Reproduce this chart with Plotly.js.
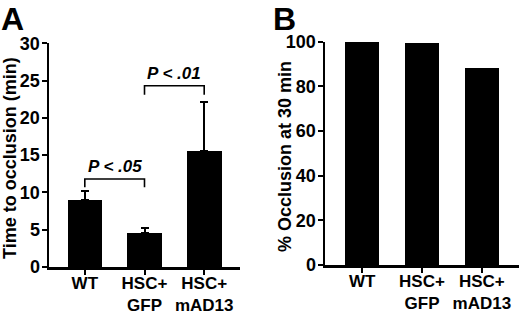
<!DOCTYPE html>
<html>
<head>
<meta charset="utf-8">
<script src="https://cdn.plot.ly/plotly-3.0.1.min.js"></script>
<style>html,body{margin:0;padding:0;background:#fff;}#chart{width:520px;height:314px;}</style>
</head>
<body>
<div id="chart"></div>
<script>
// Data
const categories = ['WT', 'HSC+<br>GFP', 'HSC+<br>mAD13'];
const timeToOcclusion = [9.0, 4.5, 15.5];
const timeErrorPlus = [1.2, 0.7, 6.6];
const occlusionPct = [100, 99.5, 88.3];
const bracketFrom = [0, 1];
const bracketTo = [1, 2];
const bracketY = [11.8, 24.3];
const bracketTipY = [10.7, 23.1];
const bracketLabels = ['P < .05', 'P < .01'];
const yTicksA = [0, 5, 10, 15, 20, 25, 30];
const yTicksB = [0, 20, 40, 60, 80, 100];
const yTitleA = 'Time to occlusion (min)';
const yTitleB = '% Occlusion at 30 min';
const panelLabels = ['A', 'B'];

const FONT = 'Liberation Sans, Arial, sans-serif';
const idx = categories.map((_, i) => i);

const traces = [
  {
    type: 'bar', x: idx, y: timeToOcclusion, xaxis: 'x', yaxis: 'y',
    width: 0.58, marker: {color: '#000'},
    error_y: {type: 'data', symmetric: false, array: timeErrorPlus, arrayminus: [0,0,0],
              color: '#000', thickness: 2, width: 4},
    hoverinfo: 'skip'
  },
  {
    type: 'bar', x: idx, y: occlusionPct, xaxis: 'x2', yaxis: 'y2',
    width: 0.57, marker: {color: '#000'}, hoverinfo: 'skip'
  }
];

const shapes = [];
const annotations = [];
bracketFrom.forEach((a, i) => {
  const b = bracketTo[i];
  shapes.push({
    type: 'path', xref: 'x', yref: 'y',
    path: `M ${a} ${bracketTipY[i]} L ${a} ${bracketY[i]} L ${b} ${bracketY[i]} L ${b} ${bracketTipY[i]}`,
    line: {color: '#000', width: 1.6}
  });
  annotations.push({
    xref: 'x', yref: 'y', x: (a + b) / 2, y: bracketY[i], yanchor: 'bottom', yshift: 1,
    text: '<i>' + bracketLabels[i] + '</i>', showarrow: false,
    font: {family: FONT, size: 17, color: '#000', weight: 'bold'}
  });
});
const titleFont = {family: FONT, size: 18, color: '#000', weight: 'bold'};
annotations.push({xref: 'paper', yref: 'paper', x: 10/520, y: (314-158)/314, xanchor: 'center', yanchor: 'middle',
  text: yTitleA, textangle: -90, showarrow: false, font: titleFont});
annotations.push({xref: 'paper', yref: 'paper', x: 285/520, y: (314-157)/314, xanchor: 'center', yanchor: 'middle',
  text: yTitleB, textangle: -90, showarrow: false, font: titleFont});
[0.0, 0.524].forEach((px, i) => {
  annotations.push({xref: 'paper', yref: 'paper', x: px, y: 1.0, xanchor: 'left', yanchor: 'top',
    borderpad: 0, text: panelLabels[i], showarrow: false,
    font: {family: FONT, size: 32, color: '#000', weight: 'bold'}});
});

const axisCommon = {
  showgrid: false, zeroline: false, showline: true, linecolor: '#000', linewidth: 2.5,
  ticks: 'outside', ticklen: 5, tickwidth: 2, tickcolor: '#000',
  tickfont: {family: FONT, size: 18, color: '#000', weight: 'bold'}, fixedrange: true
};
const xTickFont = {family: FONT, size: 17, color: '#000', weight: 'bold'};

const layout = {
  width: 520, height: 314,
  margin: {l: 0, r: 0, t: 0, b: 0},
  paper_bgcolor: '#fff', plot_bgcolor: '#fff',
  showlegend: false, bargap: 0,
  xaxis: Object.assign({}, axisCommon, {
    domain: [49/520, 240/520], range: [-0.6, 2.6], tickfont: xTickFont,
    tickvals: idx, ticktext: categories, anchor: 'y', ticklabelstandoff: -6
  }),
  yaxis: Object.assign({}, axisCommon, {
    domain: [(314-267)/314, (314-43.3)/314], range: [0, 30], tickvals: yTicksA, anchor: 'x',
    ticklabelstandoff: -2
  }),
  xaxis2: Object.assign({}, axisCommon, {
    domain: [325/520, 519/520], range: [-0.62, 2.62], tickfont: xTickFont,
    tickvals: idx, ticktext: categories, anchor: 'y2', ticklabelstandoff: -6
  }),
  yaxis2: Object.assign({}, axisCommon, {
    domain: [(314-265)/314, (314-41.7)/314], range: [0, 100], tickvals: yTicksB, anchor: 'x2',
    ticklabelstandoff: -2
  }),
  shapes: shapes,
  annotations: annotations
};

Plotly.newPlot('chart', traces, layout, {staticPlot: true, displayModeBar: false});
</script>
</body>
</html>
